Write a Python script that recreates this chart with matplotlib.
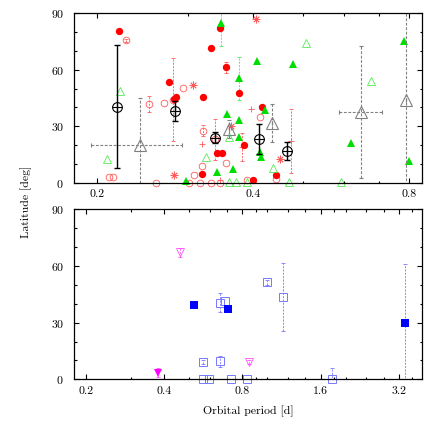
import matplotlib
matplotlib.use('Agg')
import matplotlib.pyplot as plt
from matplotlib.ticker import NullFormatter

plt.rcParams['font.family'] = 'serif'
plt.rcParams['font.serif'] = ['cmr10', 'DejaVu Serif']
plt.rcParams['axes.formatter.use_mathtext'] = True
plt.rcParams['font.size'] = 8.5

# ---- top panel data (period [d], latitude [deg], error) ----
red_fill_p = [0.220, 0.275, 0.281, 0.284, 0.320, 0.332, 0.345, 0.355, 0.375,
              0.341, 0.348, 0.319, 0.416, 0.384, 0.400, 0.443]
red_fill_lat = [80.6, 53.7, 44.5, 45.5, 45.3, 71.7, 82.0, 61.3, 47.5,
                15.6, 15.6, 4.8, 40.0, 20.0, 1.4, 3.9]
red_fill_err = [0, 0, 0, 0, 0, 0, 0, 3, 0, 0, 0, 0, 0, 0, 0, 0]

red_open_p = [0.2277, 0.2104, 0.2142, 0.2514, 0.2689, 0.2922, 0.280, 0.320,
              0.260, 0.307, 0.318, 0.301, 0.316, 0.331, 0.346, 0.3545,
              0.390, 0.413, 0.443, 0.338]
red_open_lat = [75.8, 3.2, 3.2, 41.8, 42.2, 50.2, 44.0, 27.6,
                0.0, 4.0, 9.0, 0.0, 0.0, 0.0, 0.0, 10.3,
                1.4, 35.0, 1.8, 23.0]
red_open_err = [0.8, 0, 0, 4, 0, 0, 22, 3,
                0, 0, 0, 0, 0, 0, 0, 0,
                0, 0, 0, 11]

red_plus_p = [0.396, 0.319, 0.381, 0.473, 0.345]
red_plus_lat = [39.2, 20.4, 19.1, 22.0, 1.4]
red_plus_err = [0, 0, 7.5, 17, 0]

red_star_p = [0.3056, 0.281, 0.406, 0.451, 0.362]
red_star_lat = [51.9, 4.3, 86.8, 12.7, 30.0]

green_fill_p = [0.3468, 0.408, 0.478, 0.376, 0.422, 0.356, 0.376, 0.375,
                0.413, 0.414, 0.2967, 0.341, 0.366, 0.619, 0.785, 0.801]
green_fill_lat = [84.7, 64.7, 63.0, 55.5, 38.6, 36.4, 33.5, 24.4,
                  16.5, 13.8, 0.9, 5.8, 7.3, 21.3, 75.4, 11.4]
green_fill_err = [12, 0, 0, 11.5, 0, 0, 0, 0,
                  0, 0, 0, 0, 0, 0, 0, 0]

green_open_p = [0.2217, 0.209, 0.324, 0.438, 0.470, 0.592, 0.677, 0.507,
                0.360, 0.370, 0.390, 0.360]
green_open_lat = [48.7, 12.4, 13.8, 8.0, 0.5, 0.5, 54.2, 74.4,
                  0.5, 0.5, 0.5, 24.4]

gray_p = [0.2415, 0.360, 0.435, 0.647, 0.791]
gray_lat = [20.0, 28.5, 31.6, 37.7, 43.9]
gray_p_lo = [0.194, 0.360, 0.435, 0.586, 0.791]
gray_p_hi = [0.2915, 0.360, 0.435, 0.709, 0.791]
gray_err = [25, 5, 10, 35, 50]

black_p = [0.2183, 0.2825, 0.3376, 0.410, 0.465]
black_lat = [40.4, 38.1, 23.9, 23.0, 16.8]
black_err = [32.7, 5.3, 3.0, 8.0, 5.0]

# ---- bottom panel data ----
blue_fill_p = [0.522, 0.708, 3.37]
blue_fill_lat = [39.2, 37.0, 30.0]
blue_fill_err = [0, 0, 31]

blue_open_p = [0.658, 0.687, 1.0, 1.153, 0.567, 0.658, 0.563, 0.598,
               0.723, 0.838, 1.775]
blue_open_lat = [40.6, 41.4, 51.3, 43.7, 9.3, 9.5, 0.0, 0.0,
                 0.0, 0.0, 0.0]
blue_open_err = [5, 0, 1.5, 18, 1, 3, 0, 0, 0, 0, 6]

mag_open_p = [0.461, 0.853]
mag_open_lat = [67.2, 9.3]
mag_open_err = [2.5, 1]

mag_fill_p = [0.381]
mag_fill_lat = [3.5]
mag_fill_err = [2.5]

RED = '#ff0000'
LRED = '#ff5a5a'
GREEN = '#00dd00'
LGREEN = '#55e855'
GRAY = '#808080'
BLUE = '#0000ff'
LBLUE = '#7878ff'
MAG = '#ff00ff'
LMAG = '#ff55ff'


def err_bars(ax, x, y, yerr, color, dashed=True, lw=0.6):
	'''Draws error bars only where there is an error to show.'''
	xs, ys, es = [], [], []
	for i in range(len(x)):
		if yerr[i] > 0:
			xs.append(x[i])
			ys.append(y[i])
			es.append(yerr[i])
	if len(xs) == 0:
		return
	eb = ax.errorbar(xs, ys, yerr=es, fmt='none', ecolor=color,
	                 elinewidth=lw, capsize=1.5, capthick=lw)
	if dashed:
		for c in eb[2]:
			c.set_linestyle((0, (2.5, 1.5)))


def setup_axis(ax, xlim, major, minor):
	ax.set_xscale('log')
	ax.set_xlim(xlim)
	ax.set_ylim(0, 90)
	ax.set_xticks(major)
	ax.set_xticklabels([str(m) for m in major])
	ax.set_xticks(minor, minor=True)
	ax.xaxis.set_minor_formatter(NullFormatter())
	ax.set_yticks([0, 30, 60, 90])
	ax.set_yticks([10, 20, 40, 50, 70, 80], minor=True)
	ax.tick_params(which='both', direction='in', top=True, right=True, width=0.8)
	ax.tick_params(which='major', length=3.6)
	ax.tick_params(which='minor', length=1.8)
	ax.tick_params(axis='x', pad=5)
	ax.tick_params(axis='y', pad=7)
	for s in ax.spines.values():
		s.set_linewidth(0.9)


fig = plt.figure(figsize=(4.36, 4.36), dpi=100)
W = 436.0
ax1 = fig.add_axes([73.7 / W, 1 - 182.7 / W, (422.3 - 73.7) / W, (182.7 - 13.3) / W])
ax2 = fig.add_axes([73.7 / W, 1 - 379.3 / W, (422.3 - 73.7) / W, (379.3 - 209.3) / W])

setup_axis(ax1, (0.18, 0.85), [0.2, 0.4, 0.8], [0.3, 0.5, 0.6, 0.7])
setup_axis(ax2, (0.18, 3.94), [0.2, 0.4, 0.8, 1.6, 3.2],
           [0.3, 0.5, 0.6, 0.7, 0.9, 1.0, 1.2, 1.4, 1.8, 2.0, 2.4, 2.8, 3.6])

# top panel
err_bars(ax1, red_open_p, red_open_lat, red_open_err, LRED)
err_bars(ax1, red_fill_p, red_fill_lat, red_fill_err, LRED)
err_bars(ax1, red_plus_p, red_plus_lat, red_plus_err, LRED)
err_bars(ax1, green_fill_p, green_fill_lat, green_fill_err, LGREEN)

ax1.plot(red_open_p, red_open_lat, 'o', ms=4.8, mfc='none', mec=LRED, mew=0.6, clip_on=False)
ax1.plot(red_plus_p, red_plus_lat, '+', ms=5, mec=LRED, mew=0.6, clip_on=False)
ax1.plot(red_star_p, red_star_lat, ls='none', marker=(8, 2, 0), ms=5.5, mec=LRED, mew=0.6, clip_on=False)
ax1.plot(red_fill_p, red_fill_lat, 'o', ms=5.3, mfc=RED, mec=RED, mew=0, clip_on=False)
ax1.plot(green_open_p, green_open_lat, '^', ms=5.5, mfc='none', mec=LGREEN, mew=0.6, clip_on=False)
ax1.plot(green_fill_p, green_fill_lat, '^', ms=5.8, mfc=GREEN, mec=GREEN, mew=0, clip_on=False)

# gray triangles with x and y error bars
gxe = [[gray_p[i] - gray_p_lo[i] for i in range(len(gray_p))],
       [gray_p_hi[i] - gray_p[i] for i in range(len(gray_p))]]
eb = ax1.errorbar(gray_p, gray_lat, xerr=gxe, yerr=gray_err, fmt='none', ecolor=GRAY,
                  elinewidth=0.8, capsize=1.5, capthick=0.8)
for c in eb[2]:
	c.set_linestyle((0, (2.5, 1.5)))
ax1.plot(gray_p, gray_lat, '^', ms=9, mfc='none', mec=GRAY, mew=0.8, clip_on=False)

# black averages
ax1.errorbar(black_p, black_lat, yerr=black_err, fmt='none', ecolor='black',
             elinewidth=1.0, capsize=2, capthick=1.0)
ax1.plot(black_p, black_lat, 'o', ms=7, mfc='none', mec='black', mew=0.8, clip_on=False)
ax1.plot(black_p, black_lat, '+', ms=7, mec='black', mew=0.8, clip_on=False)

# bottom panel
err_bars(ax2, blue_open_p, blue_open_lat, blue_open_err, LBLUE)
err_bars(ax2, blue_fill_p, blue_fill_lat, blue_fill_err, LBLUE)
err_bars(ax2, mag_open_p, mag_open_lat, mag_open_err, LMAG)
err_bars(ax2, mag_fill_p, mag_fill_lat, mag_fill_err, LMAG)

ax2.plot(blue_open_p, blue_open_lat, 's', ms=5.3, mfc='none', mec=LBLUE, mew=0.7, clip_on=False)
ax2.plot(blue_fill_p, blue_fill_lat, 's', ms=5.8, mfc=BLUE, mec=BLUE, mew=0, clip_on=False)
ax2.plot(mag_open_p, mag_open_lat, 'v', ms=6, mfc='none', mec=LMAG, mew=0.6, clip_on=False)
ax2.plot(mag_fill_p, mag_fill_lat, 'v', ms=6.3, mfc=MAG, mec=MAG, mew=0, clip_on=False)

# labels
fig.text(26.7 / W, 1 - 201.7 / W, 'Latitude [deg]', rotation=90, ha='center', va='center')
fig.text(248 / W, 1 - 411.7 / W, 'Orbital period [d]', ha='center', va='center')

fig.savefig('out.png', dpi=100)
